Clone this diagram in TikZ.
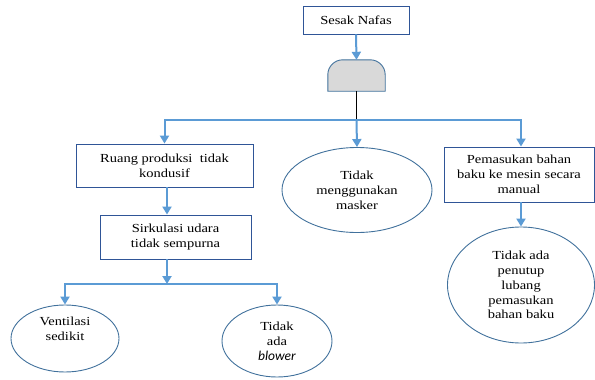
\documentclass[tikz,border=0pt]{standalone}
\usepackage{fontspec}
\setmainfont{Liberation Serif}[FakeStretch=1.18]
\newfontfamily\blowerfont{Carlito}
\usetikzlibrary{arrows.meta,shapes.geometric}
\definecolor{flow}{HTML}{5B9BD5}
\definecolor{edge}{HTML}{41719C}
\definecolor{boxedge}{HTML}{2F5597}
\definecolor{gatefill}{HTML}{D9D9D9}
\tikzset{
  every node/.style={font=\fontsize{12.3}{14.8}\selectfont, align=center, inner sep=0pt},
  causebox/.style={draw=boxedge, line width=0.9pt, rectangle},
  causeoval/.style={draw=edge, line width=0.9pt, ellipse},
  flowline/.style={draw=flow, line width=2pt},
  flowarrow/.style={flowline, -{Triangle[width=9pt,length=8pt]}},
}
\begin{document}
\begin{tikzpicture}[x=1pt,y=-1pt]
\useasboundingbox (0,0) rectangle (595,380);

% top event
\node[causebox, minimum width=106pt, minimum height=28pt] (top) at (356,20) {Sesak Nafas};

% OR-style gate: flat bottom, rounded top
\node[minimum width=57pt, minimum height=31pt] (gate) at (356.5,75.5) {};
\filldraw[fill=gatefill, draw=edge, line width=0.9pt]
  (gate.south west) [rounded corners=15pt] -- (gate.north west) -- (gate.north east)
  [sharp corners] -- (gate.south east) -- cycle;

% first level causes
\node[causebox, minimum width=177pt, minimum height=43pt] (ruang) at (164.5,165.5)
  {Ruang produksi\ \ tidak\\kondusif};
\node[causeoval, minimum width=150pt, minimum height=85pt] (masker) at (357,190)
  {Tidak\\menggunakan\\masker};
\node[causebox, minimum width=150pt, minimum height=55pt] (manual) at (519,174.5)
  {Pemasukan bahan\\baku ke mesin secara\\manual};

% second level
\node[causebox, minimum width=151pt, minimum height=44pt] (sirk) at (175.5,237)
  {Sirkulasi udara\\tidak sempurna};
\node[causeoval, minimum width=147pt, minimum height=116pt] (tutup) at (521,285)
  {Tidak ada\\penutup\\lubang\\pemasukan\\bahan baku};

% third level
\node[causeoval, minimum width=108pt, minimum height=67pt] (venti) at (65,338.5)
  {Ventilasi\\sedikit\\[4pt]};
\node[causeoval, minimum width=110pt, minimum height=72pt] (blower) at (277,341)
  {Tidak\\ada\\{\blowerfont\fontsize{13.5}{14.8}\selectfont\itshape blower}};

% helper coordinates
\coordinate (split) at (356.5,120);
\coordinate (trunk) at (167,0);
\coordinate (fork) at (167,284);

% connectors
\draw[flowarrow] (top.south) -- (gate.north);
\draw[line width=1pt, black] (gate.south) -- (split);
\draw[flowarrow] (split) -| (ruang.north);
\draw[flowarrow] (split) -- (masker.north);
\draw[flowarrow] (split) -| (tutup.north |- manual.north);
\draw[flowarrow] (ruang.south -| trunk) -- (sirk.north -| trunk);
\draw[flowarrow] (manual.south -| tutup.north) -- (tutup.north);
\draw[flowarrow] (sirk.south -| trunk) -- (fork);
\draw[flowarrow] (fork) -| (venti.north);
\draw[flowarrow] (fork) -| (blower.north);
\end{tikzpicture}
\end{document}
